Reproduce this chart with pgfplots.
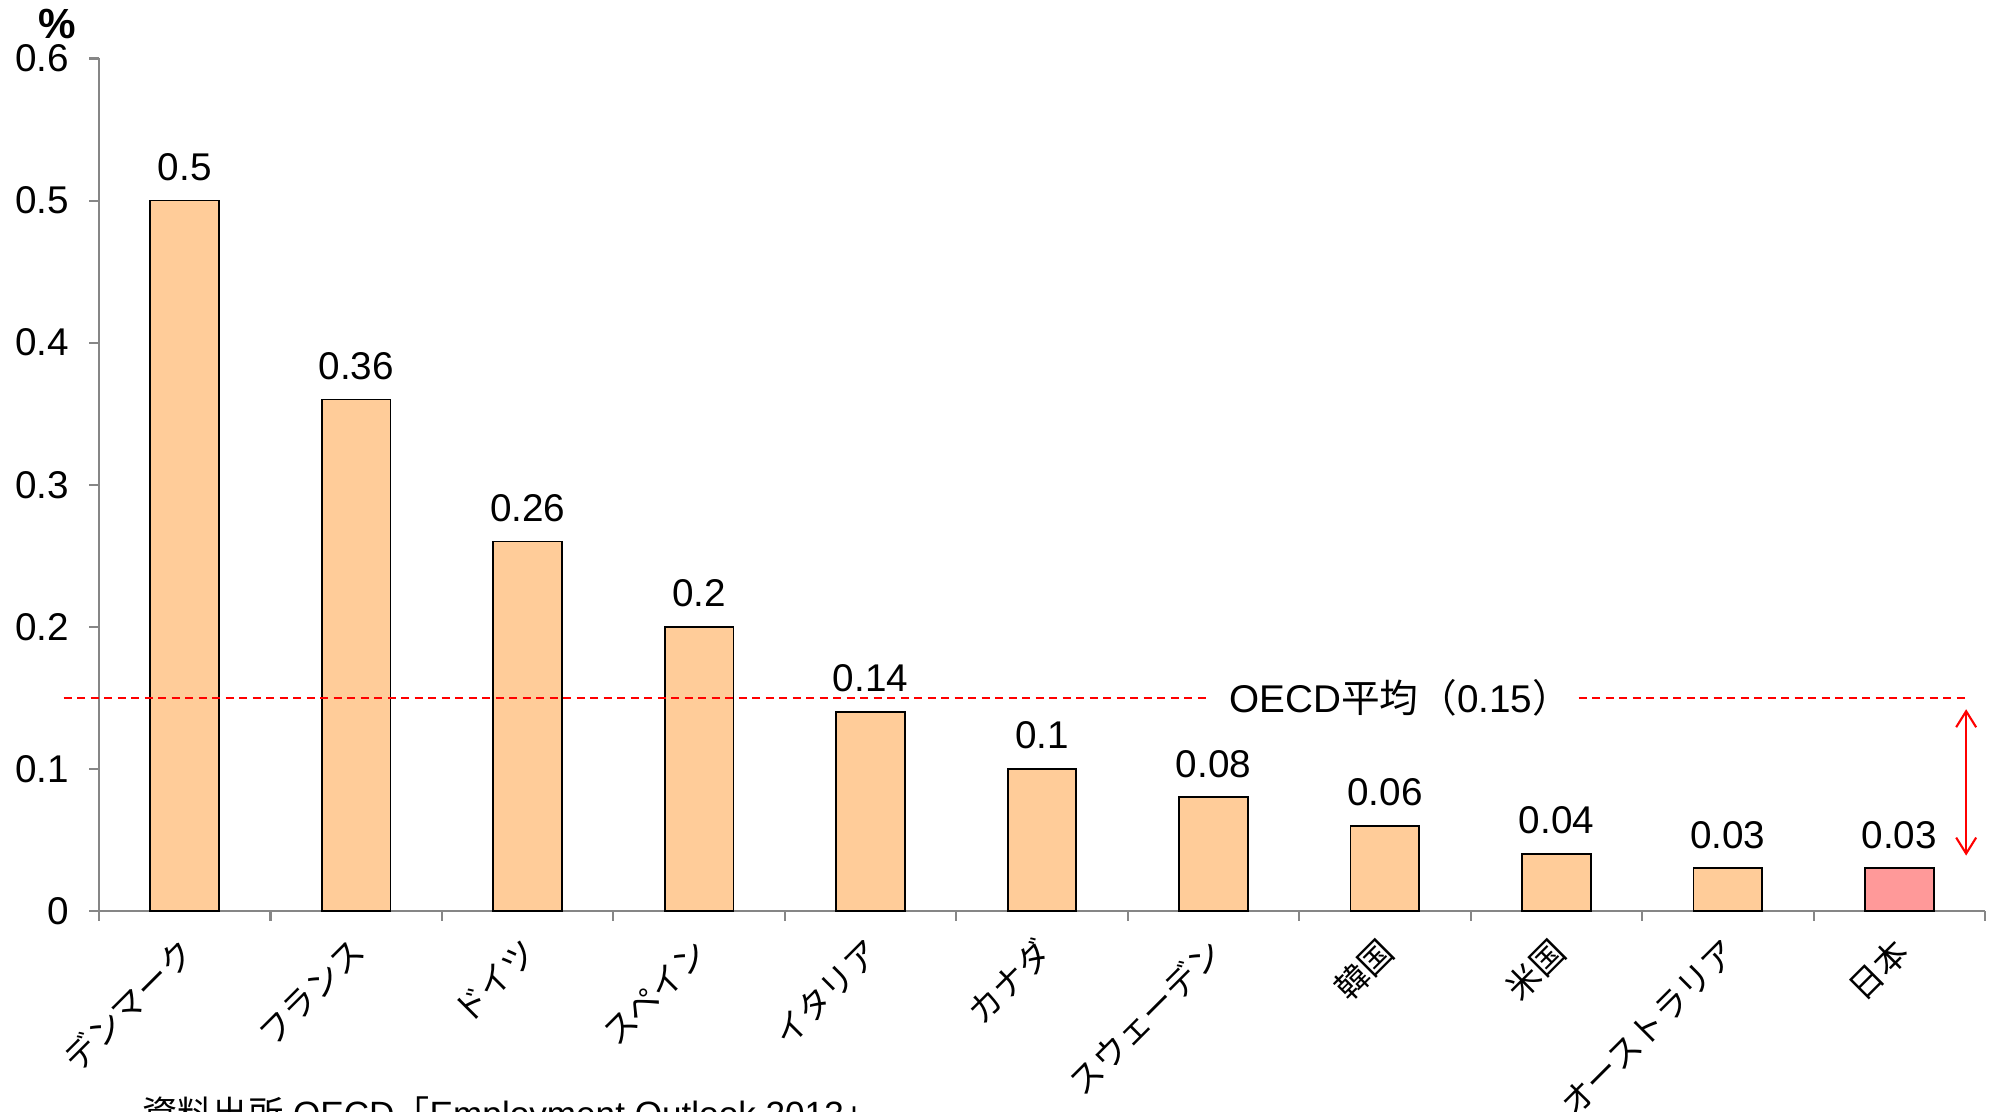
\documentclass[border=0pt]{standalone}
\usepackage{fontspec}
\setmainfont{Liberation Sans}
\newfontfamily\cjk{Noto Sans CJK JP}
\usepackage{pgfplots}
\pgfplotsset{compat=1.18}
\usetikzlibrary{arrows.meta}
\definecolor{peach}{RGB}{255,204,153}
\definecolor{pinkj}{RGB}{255,153,153}
\definecolor{axgray}{RGB}{134,134,134}
\begin{document}
\begin{tikzpicture}
\begin{axis}[
  at={(0,0)}, anchor=south west,
  scale only axis, width=188.6mm, height=85.25mm,
  xmin=-0.5, xmax=10.5, ymin=0, ymax=0.6,
  clip=false,
  axis lines*=left,
  axis line style={axgray, line width=0.6pt},
  font=\fontsize{11}{13}\selectfont,
  /pgf/number format/assume math mode=true,
  ytick={0,0.1,0.2,0.3,0.4,0.5,0.6},
  yticklabel style={/pgf/number format/fixed, /pgf/number format/precision=1, font=\fontsize{11}{13}\selectfont, xshift=-0.75mm},
  tick align=outside,
  major tick length=1mm,
  minor tick length=1mm,
  major y tick style={axgray, line width=0.6pt},
  major x tick style={draw=none},
  minor x tick style={axgray, line width=0.6pt},
  xtick={0,1,2,3,4,5,6,7,8,9,10},
  minor xtick={-0.5,0.5,1.5,2.5,3.5,4.5,5.5,6.5,7.5,8.5,9.5,10.5},
  xticklabels={デンマーク,フランス,ドイツ,スペイン,イタリア,カナダ,スウェーデン,韓国,米国,オーストラリア,日本},
  xticklabel style={font=\cjk\fontsize{9.5}{11}\selectfont, xshift=0.3mm, yshift=-2.45mm, rotate=45, anchor=east, inner sep=0pt},
  point meta=explicit symbolic,
]
\addplot[ybar, bar shift=0pt, bar width=6.87mm, fill=peach, draw=black, line width=0.5pt,
  nodes near coords={\pgfplotspointmeta},
  every node near coord/.append style={anchor=south, inner sep=0pt, yshift=1.9mm, font=\fontsize{11}{13}\selectfont, text=black}]
  coordinates {(0,0.5) [0.5] (1,0.36) [0.36] (2,0.26) [0.26] (3,0.2) [0.2] (4,0.14) [0.14]
   (5,0.1) [0.1] (6,0.08) [0.08] (7,0.06) [0.06] (8,0.04) [0.04] (9,0.03) [0.03]};
\addplot[ybar, bar shift=0pt, bar width=6.87mm, fill=pinkj, draw=black, line width=0.5pt,
  nodes near coords={\pgfplotspointmeta},
  every node near coord/.append style={anchor=south, inner sep=0pt, yshift=1.9mm, font=\fontsize{11}{13}\selectfont, text=black}]
  coordinates {(10,0.03) [0.03]};
\addplot[red, line width=0.6pt, dash pattern=on 0.8mm off 0.55mm, forget plot] coordinates {(-0.707,0.15) (5.96,0.15)};
\addplot[red, line width=0.6pt, dash pattern=on 0.8mm off 0.55mm, forget plot] coordinates {(8.13,0.15) (10.39,0.15)};
\addplot[red, line width=0.6pt, {Straight Barb[length=1.6mm,width=2mm]}-{Straight Barb[length=1.6mm,width=2mm]}, forget plot] coordinates {(10.39,0.142) (10.39,0.039)};
\node[font=\fontsize{11}{13}\selectfont] at (axis cs:7.09,0.15) {OECD{\cjk 平均（}0.15{\cjk ）}};
\node[font=\bfseries\fontsize{12}{14}\selectfont] at (rel axis cs:0,1) [xshift=-4.2mm, yshift=3.4mm] {\%};
\end{axis}
\node[anchor=north west, inner sep=0pt, font=\fontsize{10}{12}\selectfont] at (4.3mm,-18.5mm) {{\cjk 資料出所}\ OECD{\cjk 「}Employment Outlook 2013{\cjk 」}};
\pgfresetboundingbox
\useasboundingbox (-9.9mm,-20.1mm) rectangle (189.6mm,91.1mm);
\end{tikzpicture}
\end{document}
